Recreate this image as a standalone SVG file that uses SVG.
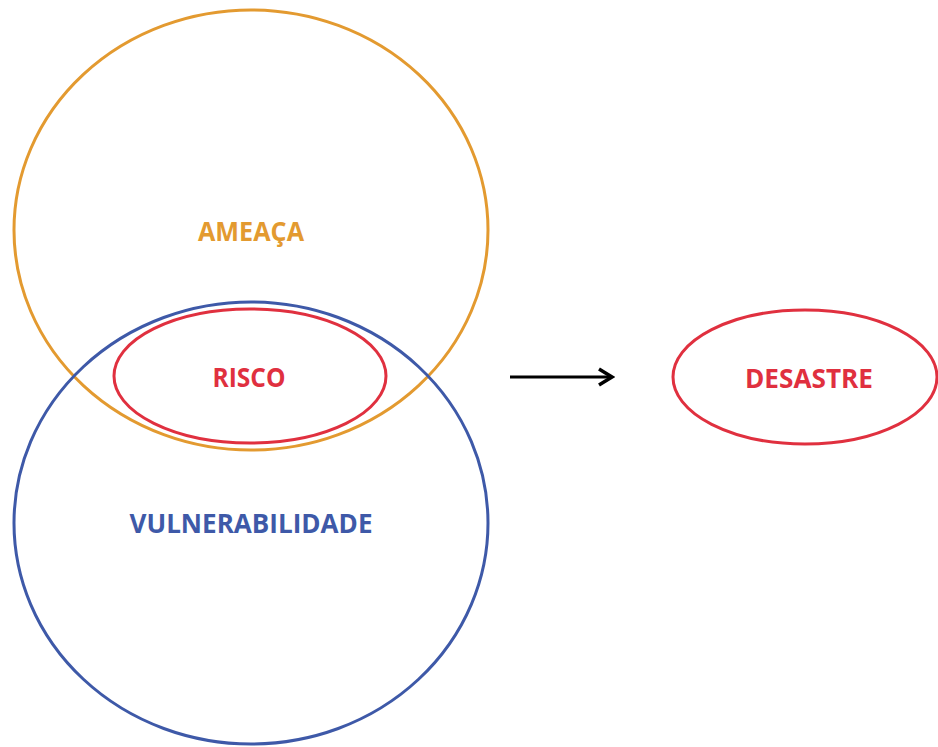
<svg xmlns="http://www.w3.org/2000/svg" width="938" height="747" viewBox="0 0 938 747">
<style>
.e{fill:none;stroke-width:3}
.t{font-family:"Open Sans","Liberation Sans",sans-serif;font-weight:bold;font-size:27px;text-anchor:middle}
</style>
<defs>
<marker id="ah" viewBox="0 0 20 20" refX="17" refY="10" markerWidth="20" markerHeight="20" markerUnits="userSpaceOnUse" orient="auto">
<path d="M4,2 L17,10 L4,18" fill="none" stroke="#000" stroke-width="3.5" stroke-linejoin="miter"/>
</marker>
</defs>
<rect width="938" height="747" fill="#fff"/>
<g id="ameaca">
<ellipse class="e" cx="251" cy="230" rx="237" ry="220" stroke="#E39A30"/>
<text class="t" x="251" y="241" fill="#E39A30" textLength="106" lengthAdjust="spacingAndGlyphs">AMEAÇA</text>
</g>
<g id="vulnerabilidade">
<ellipse class="e" cx="251" cy="523" rx="237" ry="221" stroke="#3E59A8"/>
<text class="t" x="251" y="533" fill="#3E59A8" textLength="243" lengthAdjust="spacingAndGlyphs">VULNERABILIDADE</text>
</g>
<g id="risco">
<ellipse class="e" cx="250" cy="376" rx="136" ry="67" stroke="#E0303F"/>
<text class="t" x="249" y="387" fill="#E0303F" textLength="73" lengthAdjust="spacingAndGlyphs">RISCO</text>
</g>
<g id="desastre">
<ellipse class="e" cx="805" cy="377" rx="132" ry="67" stroke="#E0303F"/>
<text class="t" x="809" y="388" fill="#E0303F" textLength="128" lengthAdjust="spacingAndGlyphs">DESASTRE</text>
</g>
<g id="connectors">
<line x1="510" y1="377" x2="612" y2="377" stroke="#000" stroke-width="3" marker-end="url(#ah)"/>
</g>
</svg>
